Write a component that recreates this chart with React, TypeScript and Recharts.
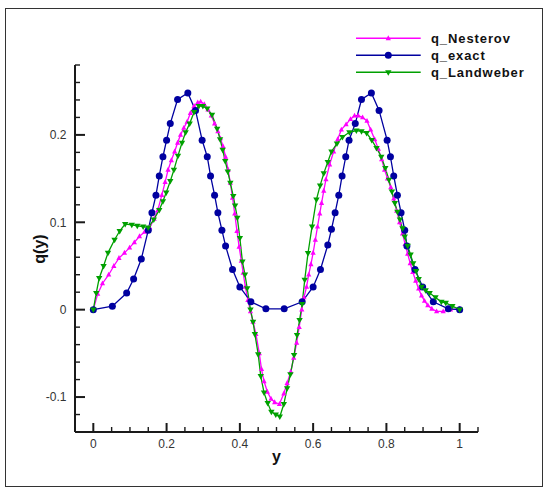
import React from "react";
import { LineChart, Line, XAxis, YAxis, Legend } from "recharts";

// ---------- data ----------
const exactX = [0, 0.052, 0.091, 0.11, 0.131, 0.15, 0.16, 0.171, 0.18, 0.19, 0.2, 0.21, 0.23, 0.258, 0.279, 0.297, 0.311, 0.32, 0.331, 0.34, 0.351, 0.361, 0.38, 0.4, 0.43, 0.471, 0.521, 0.57, 0.6, 0.62, 0.64, 0.65, 0.66, 0.67, 0.679, 0.689, 0.698, 0.715, 0.732, 0.759, 0.78, 0.802, 0.811, 0.82, 0.83, 0.84, 0.85, 0.856, 0.878, 0.899, 0.928, 0.969, 1.0];
const exactQ = [0, 0.004, 0.019, 0.035, 0.058, 0.091, 0.111, 0.131, 0.153, 0.175, 0.194, 0.213, 0.2405, 0.248, 0.228, 0.194, 0.175, 0.153, 0.131, 0.111, 0.091, 0.073, 0.046, 0.026, 0.009, 0.001, 0.001, 0.009, 0.026, 0.046, 0.074, 0.092, 0.111, 0.131, 0.153, 0.175, 0.194, 0.213, 0.2405, 0.248, 0.228, 0.194, 0.175, 0.153, 0.131, 0.111, 0.091, 0.073, 0.046, 0.026, 0.009, 0.001, 0];

const nesterovX = [0, 0.012, 0.025, 0.042, 0.056, 0.07, 0.085, 0.099, 0.112, 0.126, 0.14, 0.154, 0.166, 0.176, 0.187, 0.196, 0.204, 0.213, 0.222, 0.23, 0.238, 0.247, 0.256, 0.265, 0.275, 0.285, 0.293, 0.303, 0.313, 0.322, 0.331, 0.34, 0.347, 0.354, 0.361, 0.368, 0.374, 0.38, 0.386, 0.392, 0.398, 0.404, 0.409, 0.415, 0.422, 0.429, 0.436, 0.444, 0.453, 0.459, 0.466, 0.475, 0.485, 0.495, 0.508, 0.52, 0.529, 0.539, 0.547, 0.555, 0.562, 0.569, 0.575, 0.582, 0.588, 0.594, 0.6, 0.606, 0.612, 0.618, 0.623, 0.629, 0.635, 0.645, 0.656, 0.667, 0.677, 0.69, 0.702, 0.713, 0.723, 0.735, 0.747, 0.757, 0.768, 0.778, 0.787, 0.795, 0.803, 0.812, 0.82, 0.828, 0.836, 0.844, 0.851, 0.858, 0.865, 0.872, 0.88, 0.888, 0.896, 0.904, 0.913, 0.924, 0.937, 0.955, 0.975, 1.0];
const nesterovQ = [0, 0.018, 0.03, 0.04, 0.05, 0.059, 0.065, 0.071, 0.077, 0.084, 0.089, 0.094, 0.104, 0.114, 0.131, 0.146, 0.16, 0.171, 0.181, 0.191, 0.2, 0.208, 0.215, 0.225, 0.233, 0.237, 0.238, 0.235, 0.229, 0.222, 0.213, 0.204, 0.196, 0.187, 0.175, 0.16, 0.145, 0.128, 0.11, 0.09, 0.072, 0.056, 0.042, 0.026, 0.011, -0.002, -0.014, -0.028, -0.05, -0.068, -0.082, -0.094, -0.102, -0.106, -0.108, -0.096, -0.084, -0.071, -0.055, -0.038, -0.02, 0, 0.014, 0.026, 0.04, 0.052, 0.065, 0.08, 0.095, 0.11, 0.122, 0.136, 0.149, 0.166, 0.181, 0.195, 0.206, 0.212, 0.218, 0.222, 0.222, 0.22, 0.216, 0.206, 0.195, 0.184, 0.172, 0.16, 0.15, 0.14, 0.127, 0.113, 0.1, 0.087, 0.075, 0.064, 0.053, 0.043, 0.033, 0.024, 0.016, 0.01, 0.005, 0.001, -0.002, -0.002, 0, 0.001];

const landweberX = [0, 0.008, 0.016, 0.028, 0.04, 0.058, 0.072, 0.087, 0.105, 0.12, 0.136, 0.15, 0.165, 0.18, 0.19, 0.199, 0.21, 0.22, 0.231, 0.242, 0.252, 0.263, 0.275, 0.288, 0.299, 0.311, 0.324, 0.338, 0.346, 0.353, 0.36, 0.367, 0.374, 0.382, 0.387, 0.393, 0.4, 0.407, 0.414, 0.42, 0.429, 0.436, 0.441, 0.45, 0.457, 0.466, 0.476, 0.486, 0.498, 0.509, 0.52, 0.529, 0.538, 0.548, 0.556, 0.563, 0.57, 0.577, 0.586, 0.597, 0.609, 0.619, 0.629, 0.64, 0.65, 0.665, 0.68, 0.699, 0.718, 0.732, 0.746, 0.76, 0.773, 0.786, 0.797, 0.807, 0.815, 0.823, 0.83, 0.837, 0.844, 0.85, 0.858, 0.866, 0.873, 0.881, 0.888, 0.896, 0.907, 0.918, 0.934, 0.95, 0.962, 0.98, 1.0];
const landweberQ = [0, 0.019, 0.036, 0.05, 0.065, 0.08, 0.09, 0.098, 0.097, 0.096, 0.095, 0.094, 0.103, 0.114, 0.124, 0.134, 0.147, 0.16, 0.176, 0.191, 0.203, 0.213, 0.226, 0.233, 0.233, 0.23, 0.223, 0.207, 0.195, 0.183, 0.17, 0.158, 0.145, 0.13, 0.119, 0.105, 0.082, 0.055, 0.04, 0.0245, 0, -0.014, -0.028, -0.051, -0.076, -0.095, -0.107, -0.117, -0.12, -0.1225, -0.108, -0.09, -0.074, -0.052, -0.029, -0.012, 0.0065, 0.034, 0.0646, 0.095, 0.126, 0.142, 0.156, 0.169, 0.181, 0.19, 0.1975, 0.203, 0.205, 0.204, 0.202, 0.194, 0.185, 0.175, 0.162, 0.1485, 0.135, 0.122, 0.112, 0.103, 0.093, 0.0836, 0.073, 0.063, 0.053, 0.044, 0.035, 0.026, 0.022, 0.019, 0.014, 0.009, 0.0078, 0.004, 0];

const xTicks = [-0.05, 0, 0.05, 0.1, 0.15, 0.2, 0.25, 0.3, 0.35, 0.4, 0.45, 0.5, 0.55, 0.6, 0.65, 0.7, 0.75, 0.8, 0.85, 0.9, 0.95, 1, 1.05];
const xTickLabels = [0, 0.2, 0.4, 0.6, 0.8, 1];
const yTicks = [-0.14, -0.12, -0.1, -0.08, -0.06, -0.04, -0.02, 0, 0.02, 0.04, 0.06, 0.08, 0.1, 0.12, 0.14, 0.16, 0.18, 0.2, 0.22, 0.24, 0.26, 0.28];
const yTickLabels = [-0.1, 0, 0.1, 0.2];

const seriesNames = ["q_Nesterov", "q_exact", "q_Landweber"];

const zip = (xs: number[], qs: number[]) => xs.map((x, i) => ({ x, q: qs[i] }));
const exactData = zip(exactX, exactQ);
const nesterovData = zip(nesterovX, nesterovQ);
const landweberData = zip(landweberX, landweberQ);

// ---------- styles ----------
const MAGENTA = "#ff00ff";
const BLUE = "#0000a0";
const GREEN = "#00a000";
const AXIS = "#1a1a1a";
const FONT = 'Arial, "Liberation Sans", sans-serif';

const isIn = (list: number[], v: number) => list.some((m) => Math.abs(m - v) < 1e-9);

const XTick = (props: any) => {
  const { x, y, payload } = props;
  const v = payload.value;
  const major = isIn(xTickLabels, v);
  return (
    <g>
      <line x1={x} y1={y} x2={x} y2={y - (major ? 9 : 5)} stroke={AXIS} strokeWidth={major ? 2 : 1.4} />
      {major && (
        <text x={x} y={y + 16} textAnchor="middle" fontSize={12} fontFamily={FONT} fill="#333">
          {String(v)}
        </text>
      )}
    </g>
  );
};

const YTick = (props: any) => {
  const { x, y, payload } = props;
  const v = payload.value;
  const major = isIn(yTickLabels, v);
  return (
    <g>
      <line x1={x} y1={y} x2={x + (major ? 10 : 5)} y2={y} stroke={AXIS} strokeWidth={major ? 2 : 1.4} />
      {major && (
        <text x={x - 8.5} y={y + 4.3} textAnchor="end" fontSize={12} fontFamily={FONT} fill="#333">
          {String(v)}
        </text>
      )}
    </g>
  );
};

const circleDot = (p: any) => (
  <circle key={`c${p.index}`} cx={p.cx} cy={p.cy} r={3.5} fill={BLUE} stroke="none" />
);
const upDot = (p: any) => (
  <polygon
    key={`u${p.index}`}
    points={`${p.cx},${p.cy - 3} ${p.cx - 2.6},${p.cy + 1.9} ${p.cx + 2.6},${p.cy + 1.9}`}
    fill={MAGENTA}
  />
);
const downDot = (p: any) => (
  <polygon
    key={`d${p.index}`}
    points={`${p.cx},${p.cy + 3.4} ${p.cx - 3.2},${p.cy - 2.1} ${p.cx + 3.2},${p.cy - 2.1}`}
    fill={GREEN}
  />
);

const LegendBox = () => {
  const colors = [MAGENTA, BLUE, GREEN];
  return (
    <svg width={190} height={56} style={{ display: "block" }}>
      {seriesNames.map((name, i) => {
        const cy = 10.3 + i * 17;
        const c = colors[i];
        const mx = 32.3;
        let marker;
        if (i === 0)
          marker = <polygon points={`${mx},${cy - 3} ${mx - 2.6},${cy + 1.9} ${mx + 2.6},${cy + 1.9}`} fill={c} />;
        else if (i === 1) marker = <circle cx={mx} cy={cy} r={3.5} fill={c} />;
        else marker = <polygon points={`${mx},${cy + 3.4} ${mx - 3.2},${cy - 2.1} ${mx + 3.2},${cy - 2.1}`} fill={c} />;
        return (
          <g key={name}>
            <line x1={0} y1={cy} x2={64.7} y2={cy} stroke={c} strokeWidth={1.4} />
            {marker}
            <text
              x={75}
              y={cy + 4.6}
              fontSize={13}
              fontWeight="bold"
              fontFamily={FONT}
              letterSpacing={0.9}
              fill="#111"
            >
              {name}
            </text>
          </g>
        );
      })}
    </svg>
  );
};

export default function App() {
  return (
    <div style={{ position: "absolute", left: 0, top: 0, width: 550, height: 494, background: "#fff" }}>
      <div
        style={{
          position: "absolute",
          left: 5,
          top: 8,
          width: 538,
          height: 479,
          border: "1.5px solid #333",
          boxSizing: "border-box",
          pointerEvents: "none",
        }}
      />
      <LineChart
        width={550}
        height={494}
        margin={{ top: 65, right: 72, bottom: 32, left: 35 }}
        style={{ position: "absolute", left: 0, top: 0 }}
      >
        <XAxis
          type="number"
          dataKey="x"
          domain={[-0.05, 1.05]}
          ticks={xTicks}
          interval={0}
          height={30}
          tickSize={0}
          tickMargin={0}
          tickLine={false}
          axisLine={{ stroke: AXIS, strokeWidth: 2 }}
          tick={XTick}
          allowDataOverflow
        />
        <YAxis
          type="number"
          dataKey="q"
          domain={[-0.14, 0.28]}
          ticks={yTicks}
          interval={0}
          width={40}
          tickSize={0}
          tickMargin={0}
          tickLine={false}
          axisLine={{ stroke: AXIS, strokeWidth: 2 }}
          tick={YTick}
          allowDataOverflow
        />
        <Legend
          layout="vertical"
          align="center"
          verticalAlign="middle"
          content={() => <LegendBox />}
          wrapperStyle={{ position: "absolute", left: 356, top: 28, width: 190, height: 56 }}
        />
        <Line
          name={seriesNames[0]}
          data={nesterovData}
          dataKey="q"
          type="linear"
          stroke={MAGENTA}
          strokeWidth={1.3}
          dot={upDot}
          activeDot={false}
          isAnimationActive={false}
        />
        <Line
          name={seriesNames[1]}
          data={exactData}
          dataKey="q"
          type="linear"
          stroke={BLUE}
          strokeWidth={1.3}
          dot={circleDot}
          activeDot={false}
          isAnimationActive={false}
        />
        <Line
          name={seriesNames[2]}
          data={landweberData}
          dataKey="q"
          type="linear"
          stroke={GREEN}
          strokeWidth={1.3}
          dot={downDot}
          activeDot={false}
          isAnimationActive={false}
        />
      </LineChart>
      <div
        style={{
          position: "absolute",
          left: 276.5,
          top: 449,
          transform: "translateX(-50%)",
          fontFamily: FONT,
          fontWeight: "bold",
          fontSize: 16,
          lineHeight: "16px",
          color: "#111",
        }}
      >
        y
      </div>
      <div
        style={{
          position: "absolute",
          left: 40,
          top: 249,
          transform: "translate(-50%, -50%) rotate(-90deg)",
          fontFamily: FONT,
          fontWeight: "bold",
          fontSize: 16,
          lineHeight: "16px",
          color: "#111",
          whiteSpace: "nowrap",
        }}
      >
        q(y)
      </div>
    </div>
  );
}
